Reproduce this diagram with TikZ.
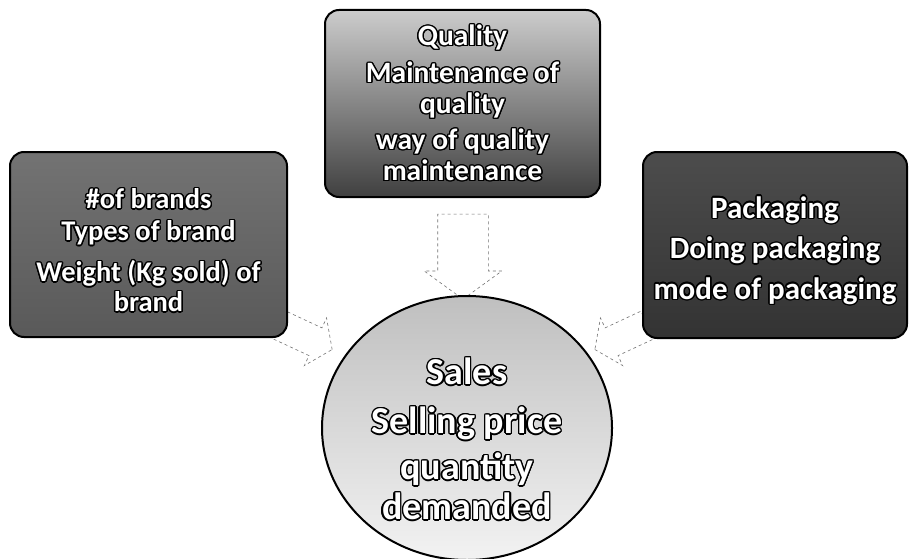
\documentclass[tikz,border=0pt]{standalone}
\usepackage{fontspec}
\setmainfont{Carlito}
\usepackage{contour}
\contourlength{1.4pt}
\usetikzlibrary{shapes.arrows,shapes.geometric,positioning}

% white letters with a black rim
\newcommand{\outl}[1]{\contour{black}{#1}}

\begin{document}
\begin{tikzpicture}[x=1pt,y=1pt,
    box/.style={rectangle,draw=black,line width=2pt,rounded corners=14pt,
        align=center,text=white,inner sep=4pt},
    blockarrow/.style={single arrow,draw=black!55,dashed,line width=0.6pt,
        fill=white}]
    \useasboundingbox[fill=white] (0,0) rectangle (909,558);

    % arrows towards the sales circle
    \node[blockarrow,minimum height=85pt,inner sep=25pt,
        single arrow head extend=13.5pt,single arrow tip angle=108,
        shape border rotate=270] (arrTop) at (463,310.5) {};
    \node[blockarrow,minimum height=58pt,inner sep=15pt,
        single arrow head extend=11pt,single arrow tip angle=110,
        rotate=-25] (arrLeft) at (301,223) {};
    \node[blockarrow,minimum height=58pt,inner sep=15pt,
        single arrow head extend=11pt,single arrow tip angle=110,
        shape border rotate=180,rotate=25] (arrRight) at (626,223) {};

    % the three factor boxes
    \node[box,minimum width=277pt,minimum height=185pt,
        font=\bfseries\fontsize{28.5}{30}\selectfont,
        top color=black!55,bottom color=black!65] (brands) at (148.5,313.5)
        {\rule{0pt}{33pt}\outl{\#of brands}\\[2pt] \outl{Types of brand}\\[11pt]
         \outl{Weight (Kg sold) of}\\ \outl{brand}};
    \node[box,minimum width=275pt,minimum height=187pt,
        font=\bfseries\fontsize{29.5}{31}\selectfont,
        top color=black!20,bottom color=black!75] (quality) at (462.5,454.5)
        {\outl{Quality}\\[6pt] \outl{Maintenance of}\\ \outl{quality}\\[5pt]
         \outl{way of quality}\\ \outl{maintenance}};
    \node[box,minimum width=264pt,minimum height=186pt,
        font=\bfseries\fontsize{31}{26}\selectfont,
        top color=black!70,bottom color=black!80] (packaging) at (775,313)
        {\rule{0pt}{34pt}\outl{Packaging}\\[11pt] \outl{Doing packaging}\\[11pt]
         \outl{mode of packaging}};

    % sales
    \node[ellipse,draw=black,line width=2pt,minimum width=290pt,
        minimum height=255pt,inner sep=0pt,top color=black!25,
        bottom color=black!5,align=center,text=white,
        font=\bfseries\fontsize{38}{40}\selectfont] (sales) at (467,130)
        {\rule{0pt}{50pt}\outl{Sales}\\[9pt] \outl{Selling price}\\[6pt]
         \outl{quantity}\\ \outl{demanded}};
\end{tikzpicture}
\end{document}
